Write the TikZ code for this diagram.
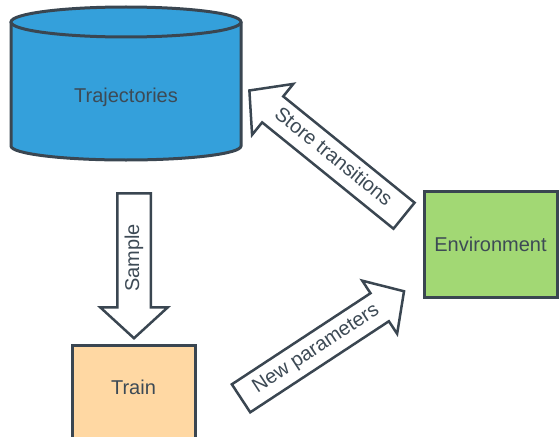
\documentclass[tikz,border=0pt]{standalone}
\usepackage{fontspec}
\setmainfont{Liberation Sans}
\usetikzlibrary{shapes.arrows}
\definecolor{edgecol}{HTML}{3A4651}
\definecolor{txtcol}{HTML}{3D4A55}
\definecolor{cylfill}{HTML}{34A0DB}
\definecolor{greenfill}{HTML}{A2D874}
\definecolor{orangefill}{HTML}{FFD8A3}
\begin{document}
\begin{tikzpicture}[x=1pt,y=-1pt,
  font=\fontsize{20}{24}\selectfont, text=txtcol,
  box/.style={draw=edgecol, line width=3pt},
  blockarrow/.style={single arrow, draw=edgecol, line width=2.5pt, fill=white,
    text height=14pt, text depth=4pt, inner ysep=6.5pt, inner xsep=2pt,
    single arrow head extend=16pt, single arrow tip angle=95, anchor=tail}]
\useasboundingbox (0,0) rectangle (559,436);
\clip (0,0) rectangle (559,436);
% cylinder
\fill[cylfill] (11,22) rectangle (241,146);
\fill[cylfill] (126,146) ellipse [x radius=115, y radius=14];
\draw[box] (11,22) -- (11,146) arc[start angle=180, end angle=0, x radius=115, y radius=14] -- (241,22);
\draw[box, fill=cylfill] (126,22) ellipse [x radius=115, y radius=15];
\node (traj) at (126,97) {Trajectories};
% environment
\node[box, fill=greenfill, minimum width=133pt, minimum height=106pt] (env) at (490.5,244) {Environment};
% train
\node[box, fill=orangefill, minimum width=123pt, minimum height=100pt, anchor=north] (train) at (133.5,344) {};
\node (trainlbl) at (133.5,387) {Train};
% block arrows
\node[blockarrow, shape border rotate=180, rotate=90, minimum height=145pt, single arrow head extend=17pt] (sample) at (134,192) {Sample};
\node[blockarrow, shape border rotate=180, rotate=-39, minimum height=199pt] (store) at (405,216.5) {Store transitions};
\node[blockarrow, rotate=33.3, minimum height=195pt, single arrow head extend=15pt] (newp) at (240,399) {New parameters};
\end{tikzpicture}
\end{document}
